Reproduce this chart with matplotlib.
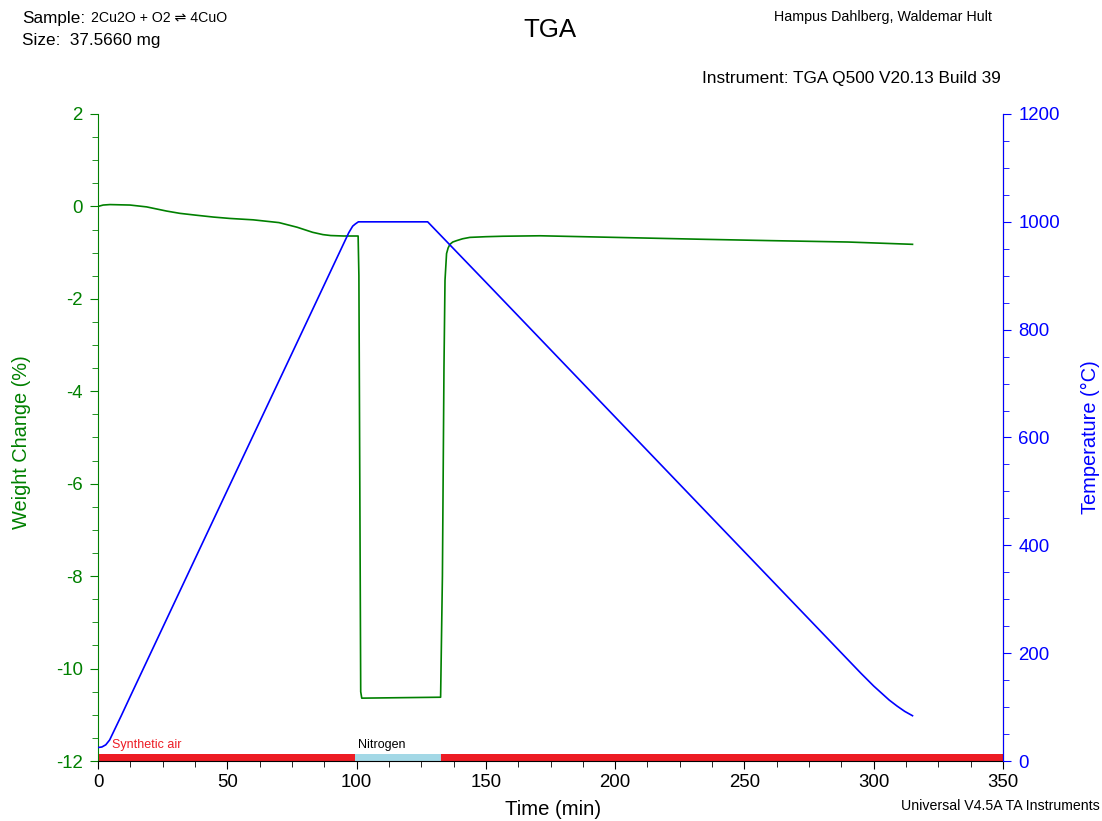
import matplotlib
matplotlib.use("Agg")
import matplotlib.pyplot as plt
from matplotlib.ticker import MultipleLocator

plt.rcParams['font.family'] = ['Liberation Sans', 'DejaVu Sans']

GREEN = "#008000"
BLUE = "#0000ff"

# weight change (%) vs time (min)
t_weight = [0, 2, 4.6, 12.4, 18.8, 26.5, 31.7, 38, 44.6, 51, 60, 70, 77, 83, 87, 90, 95,
            100.6, 100.9, 101.6, 102, 117, 132.5, 133.2, 133.8, 134.2, 134.8, 135.4,
            136.1, 137.2, 138.7, 141, 143.8, 150, 156.6, 171, 200, 233, 260, 290, 315]
weight = [0.0, 0.03, 0.04, 0.03, -0.01, -0.10, -0.15, -0.19, -0.23, -0.26, -0.29, -0.35,
          -0.45, -0.56, -0.61, -0.63, -0.64,
          -0.64, -1.5, -10.5, -10.64, -10.63, -10.62, -8.0, -3.5, -1.6, -1.02, -0.9,
          -0.82, -0.77, -0.74, -0.70, -0.67, -0.655, -0.645, -0.635, -0.67, -0.71,
          -0.74, -0.77, -0.82]

# sample temperature (°C) vs time (min)
t_temp = [0, 1.5, 3, 4.5, 6, 9, 12.4, 50, 75, 97, 98.5, 99.5, 100.7, 127.5, 150, 200,
          250, 280, 290, 295, 300, 303, 306, 309, 312, 315]
temp = [25, 26, 30, 39, 54, 84, 119, 502, 756, 980, 992, 996, 1000, 1000, 888, 638,
        388, 238, 188, 163, 139, 126, 113, 102, 92, 84]

# purge gas segments
gas_start = [0, 99.3, 132.7]
gas_end = [99.3, 132.7, 350]
gas_color = ["#ed1c24", "#a3d8e6", "#ed1c24"]

fig = plt.figure(figsize=(11.02, 8.21), dpi=100)
ax = fig.add_axes([98 / 1102, 60 / 821, 905 / 1102, 647 / 821])
ax2 = ax.twinx()

ax.plot(t_weight, weight, color=GREEN, lw=1.2, zorder=3)
ax2.plot(t_temp, temp, color=BLUE, lw=1.2)

for s, e, c in zip(gas_start, gas_end, gas_color):
    ax.broken_barh([(s, e - s)], (-12, 0.16), facecolors=c, zorder=2)
ax.text(5.3, -11.66, "Synthetic air", color="#ed1c24", fontsize=9, va="center")
ax.text(100.5, -11.66, "Nitrogen", color="black", fontsize=9, va="center")

ax.set_xlim(0, 350)
ax.set_ylim(-12, 2)
ax2.set_ylim(0, 1200)

ax.xaxis.set_major_locator(MultipleLocator(50))
ax.xaxis.set_minor_locator(MultipleLocator(12.5))
ax.yaxis.set_major_locator(MultipleLocator(2))
ax.yaxis.set_minor_locator(MultipleLocator(0.5))
ax2.yaxis.set_major_locator(MultipleLocator(200))
ax2.yaxis.set_minor_locator(MultipleLocator(50))

ax.tick_params(axis="x", which="major", length=6, labelsize=13.4, pad=3)
ax.tick_params(axis="x", which="minor", length=4)
ax.tick_params(axis="y", which="major", length=6, labelsize=13.4, pad=5,
               colors=GREEN)
ax.tick_params(axis="y", which="minor", length=4, colors=GREEN)
ax2.tick_params(axis="y", which="major", length=6, labelsize=13.4, pad=5,
                colors=BLUE)
ax2.tick_params(axis="y", which="minor", length=4, colors=BLUE)

ax.yaxis.set_major_formatter(plt.FuncFormatter(lambda v, p: f"{v:g}"))

for a in (ax, ax2):
    a.spines["top"].set_visible(False)
ax.spines["left"].set_color(GREEN)
ax2.spines["left"].set_visible(False)
ax2.spines["bottom"].set_visible(False)
ax2.spines["right"].set_color(BLUE)

# axis titles
fig.text(553 / 1102, 1 - 809 / 821, "Time (min)", fontsize=14.6, ha="center", va="center")
fig.text(22 / 1102, 1 - 442 / 821, "Weight Change (%)", fontsize=14.4, color=GREEN,
         rotation=90, ha="center", va="center")
fig.text(1090 / 1102, 1 - 437 / 821, "Temperature (°C)", fontsize=14.4, color=BLUE,
         rotation=90, ha="center", va="center")

# header and footer
fig.text(22 / 1102, 1 - 18 / 821, "Sample:", fontsize=12.3, va="center")
fig.text(91 / 1102, 1 - 18 / 821, "2Cu2O + O2 ⇌ 4CuO", fontsize=10.2, va="center")
fig.text(22 / 1102, 1 - 40 / 821, "Size:  37.5660 mg", fontsize=12.3, va="center")
fig.text(550 / 1102, 1 - 30 / 821, "TGA", fontsize=18.6, ha="center", va="center")
fig.text(883 / 1102, 1 - 17 / 821, "Hampus Dahlberg, Waldemar Hult", fontsize=10.3,
         ha="center", va="center")
fig.text(1001 / 1102, 1 - 79 / 821, "Instrument: TGA Q500 V20.13 Build 39",
         fontsize=12.4, ha="right", va="center")
fig.text(1100 / 1102, 1 - 806 / 821, "Universal V4.5A TA Instruments", fontsize=10.2,
         ha="right", va="center")

fig.savefig("out.png", dpi=100)
